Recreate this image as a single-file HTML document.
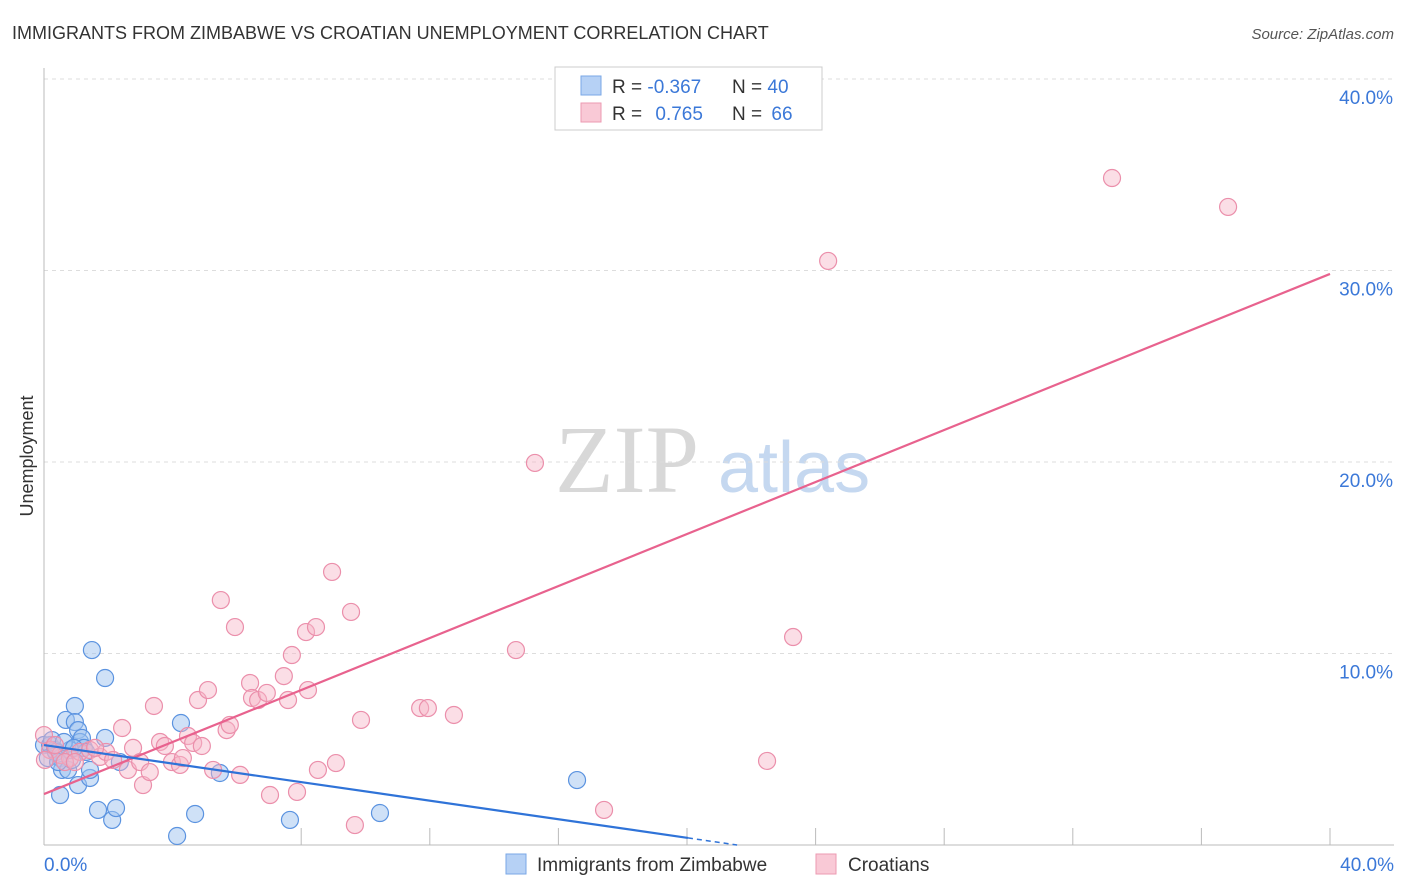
<!DOCTYPE html>
<html><head><meta charset="utf-8"><style>
body{margin:0;background:#fff;font-family:"Liberation Sans",sans-serif;}
#wrap{position:relative;width:1406px;height:892px;overflow:hidden;}
</style></head><body>
<div id="wrap">
<svg id="svg" width="1406" height="892" xmlns="http://www.w3.org/2000/svg">
<text x="12" y="39" font-size="18" fill="#333">IMMIGRANTS FROM ZIMBABWE VS CROATIAN UNEMPLOYMENT CORRELATION CHART</text>
<text x="1394" y="39" font-size="15" fill="#555" text-anchor="end" font-style="italic">Source: ZipAtlas.com</text>
<text x="33" y="456" font-size="18" fill="#333" text-anchor="middle" transform="rotate(-90 33 456)">Unemployment</text>
<text x="555" y="492" font-size="96" fill="#d8d8d8" font-family="Liberation Serif,serif">ZIP</text>
<text x="718" y="492" font-size="72" fill="#c5d8f0">atlas</text>
<g id="grid"></g><g id="axes"></g><g id="pts"></g><g id="lines"></g>
<g>
<rect x="555" y="67" width="267" height="63" fill="#fff" stroke="#ccc"/>
<rect x="581" y="76" width="20" height="19" fill="#b6d1f5" stroke="#7aa7e6"/>
<rect x="581" y="103" width="20" height="19" fill="#f9c9d6" stroke="#ec9ab2"/>
<text x="612" y="93" font-size="19" fill="#333">R = <tspan fill="#3b78d8">-0.367</tspan></text>
<text x="732" y="93" font-size="19" fill="#333">N = <tspan fill="#3b78d8">40</tspan></text>
<text x="612" y="120" font-size="19" fill="#333">R = <tspan fill="#3b78d8" dx="8">0.765</tspan></text>
<text x="732" y="120" font-size="19" fill="#333">N = <tspan fill="#3b78d8" dx="4">66</tspan></text>
</g>
<g>
<rect x="506" y="854" width="20" height="20" fill="#b6d1f5" stroke="#7aa7e6"/>
<text x="537" y="871" font-size="19" fill="#333">Immigrants from Zimbabwe</text>
<rect x="816" y="854" width="20" height="20" fill="#f9c9d6" stroke="#ec9ab2"/>
<text x="848" y="871" font-size="19" fill="#333">Croatians</text>
</g>
</svg>
</div>
<script>
const yTicks=[10,20,30,40];
const yTickLabels=["10.0%","20.0%","30.0%","40.0%"];
const xTicks=[8,12,16,20,24,28,32,36,40];
const xLabels=["0.0%","40.0%"];
const blueX=[0,0.19,0.34,0.5,0.12,0.56,0.5,0.68,0.96,0.96,1.06,1.12,1.18,1.24,0.75,0.87,1.06,1.43,1.49,1.9,1.9,1.68,2.12,2.24,2.36,4.26,5.47,4.7,4.14,7.65,10.45,16.58,0.25,0.37,0.81,1.31,0.62,0.44,1.43,0.93];
const blueY=[5.22,5.22,4.96,4.54,4.54,3.92,2.61,6.53,7.26,6.42,6.0,5.38,5.59,5.07,3.92,4.44,3.13,3.5,10.18,8.72,5.59,1.83,1.31,1.93,4.33,6.37,3.76,1.62,0.47,1.31,1.67,3.39,5.48,4.86,4.96,4.86,5.38,4.33,3.92,5.07];
const pinkX=[0,0.19,0.5,0.81,1.12,1.43,1.74,1.93,2.15,2.43,2.61,2.77,2.99,3.08,3.29,3.42,3.61,3.76,3.98,4.23,4.32,4.48,4.64,4.79,4.91,5.1,5.26,5.5,5.68,5.78,5.94,6.1,6.41,6.47,6.66,6.93,7.03,7.46,7.59,7.71,7.87,8.15,8.21,8.46,8.52,8.96,9.08,9.55,9.67,9.86,11.7,11.94,12.75,14.68,15.27,17.42,22.49,23.3,24.39,33.22,36.83,0.03,0.34,0.65,0.96,1.59];
const pinkY=[5.74,4.96,4.7,4.54,4.86,4.96,4.6,4.86,4.44,6.11,3.92,5.07,4.33,3.13,3.81,7.26,5.38,5.17,4.33,4.18,4.54,5.69,5.33,7.57,5.17,8.09,3.92,12.79,6.0,6.27,11.38,3.66,8.46,7.68,7.57,7.94,2.61,8.82,7.57,9.92,2.77,11.12,8.09,11.38,3.92,14.26,4.28,12.17,1.04,6.53,7.15,7.15,6.79,10.18,19.95,1.83,4.39,10.86,30.5,34.83,33.32,4.44,5.22,4.33,4.33,5.07];
const pinkTrend=[2.66,29.82];
const blueTrend=[5.22,0.37,20.03];
const NS="http://www.w3.org/2000/svg";
const X=v=>44+v*32.15, Y=v=>845-v*19.15;
function mk(t,a,p){const e=document.createElementNS(NS,t);for(const k in a)e.setAttribute(k,a[k]);document.getElementById(p).appendChild(e);return e;}
yTicks.forEach((t,i)=>{
 const l=mk('line',{x1:44,x2:1394,y1:Y(t),y2:Y(t),stroke:'#ddd','stroke-dasharray':'4,4'},'grid');
 
 
 const tx=mk('text',{x:1393,y:Y(t)+25,'font-size':19,fill:'#3b78d8','text-anchor':'end'},'grid');
 tx.textContent=yTickLabels[i];
 
 
});
let a=mk('line',{x1:44,x2:44,y1:68,y2:845,stroke:'#bbb'},'axes');


a=mk('line',{x1:44,x2:1394,y1:845,y2:845,stroke:'#bbb'},'axes');


xTicks.forEach(t=>{const l=mk('line',{x1:X(t),x2:X(t),y1:828,y2:845,stroke:'#bbb'},'axes');
 
 });
[[0,'start',44],[40,'end',1394]].forEach((d,i)=>{const tx=mk('text',{x:d[2],y:871,'font-size':19,fill:'#3b78d8','text-anchor':d[1]},'axes');tx.textContent=xLabels[i];
 
 });
blueX.forEach((x,i)=>{const c=mk('circle',{cx:X(x),cy:Y(blueY[i]),r:8.5,fill:'rgba(160,196,240,0.5)',stroke:'#5b93e0','stroke-width':1.2},'pts');
 
 });
pinkX.forEach((x,i)=>{const c=mk('circle',{cx:X(x),cy:Y(pinkY[i]),r:8.5,fill:'rgba(246,182,200,0.45)',stroke:'#eb8fab','stroke-width':1.2},'pts');
 
 });
let t=mk('line',{x1:X(0),y1:Y(pinkTrend[0]),x2:X(40),y2:Y(pinkTrend[1]),stroke:'#e8628e','stroke-width':2.2},'lines');


const bs=(blueTrend[1]-blueTrend[0])/blueTrend[2];
t=mk('line',{x1:X(0),y1:Y(blueTrend[0]),x2:X(blueTrend[2]),y2:Y(blueTrend[1]),stroke:'#2f73d8','stroke-width':2.2},'lines');


const xe=-blueTrend[0]/bs;
t=mk('line',{x1:X(blueTrend[2]),y1:Y(blueTrend[1]),x2:X(xe),y2:Y(0),stroke:'#2f73d8','stroke-width':1.5,'stroke-dasharray':'5,4'},'lines');


</script>
</body></html>
